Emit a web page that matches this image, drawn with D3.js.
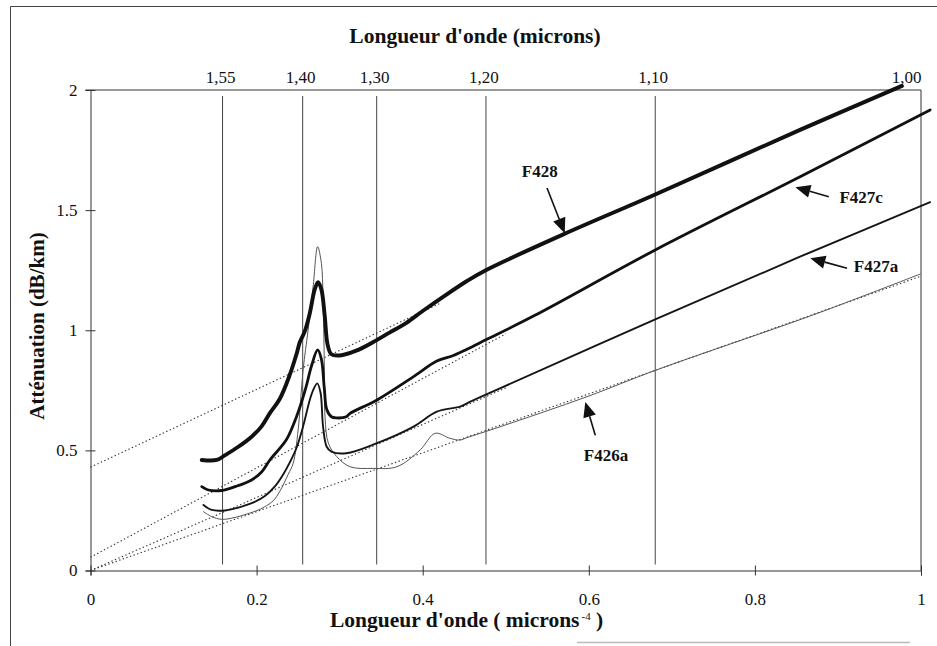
<!DOCTYPE html>
<html><head><meta charset="utf-8">
<script src="https://cdn.jsdelivr.net/npm/d3@7"></script>
<style>body{margin:0;background:#fff}svg{display:block}</style>
</head><body><svg id="c" width="937" height="646"></svg>
<script>
// ---- data ----
const xTicks=[0,0.2,0.4,0.6,0.8,1];
const xTickLabels=["0","0.2","0.4","0.6","0.8","1"];
const yTicks=[0,0.5,1,1.5,2];
const yTickLabels=["0","0.5","1","1.5","2"];
const wavelengthLabels=["1,55","1,40","1,30","1,20","1,10","1,00"];
const wavelengthPos=[0.159,0.2555,0.3446,0.4762,0.680,0.985];
const gridPos=[0.159,0.2555,0.3446,0.4762,0.680];

const seriesNames=["F428","F427c","F427a","F426a"];
const f428=[[0.134,0.46],[0.152,0.46],[0.162,0.48],[0.178,0.515],[0.194,0.557],[0.206,0.60],[0.216,0.655],[0.228,0.715],[0.240,0.815],[0.248,0.90],[0.252,0.95],[0.258,0.995],[0.264,1.07],[0.270,1.17],[0.274,1.20],[0.278,1.17],[0.282,1.06],[0.2855,0.94],[0.290,0.90],[0.300,0.895],[0.320,0.915],[0.340,0.95],[0.360,0.99],[0.380,1.03],[0.400,1.08],[0.425,1.14],[0.4533,1.205],[0.476,1.25],[0.57,1.40],[0.68,1.565],[0.855,1.835],[0.977,2.017]];
const f427c=[[0.134,0.349],[0.142,0.335],[0.158,0.333],[0.175,0.35],[0.194,0.377],[0.206,0.41],[0.216,0.46],[0.236,0.545],[0.248,0.64],[0.254,0.70],[0.260,0.77],[0.266,0.85],[0.2735,0.918],[0.278,0.88],[0.2815,0.76],[0.2845,0.67],[0.290,0.64],[0.296,0.635],[0.308,0.640],[0.3125,0.654],[0.345,0.71],[0.389,0.807],[0.417,0.872],[0.437,0.895],[0.4533,0.921],[0.476,0.96],[0.534,1.06],[0.68,1.334],[0.855,1.64],[1.011,1.917]];
const f427a=[[0.136,0.273],[0.146,0.252],[0.162,0.250],[0.178,0.262],[0.194,0.28],[0.210,0.31],[0.222,0.35],[0.232,0.40],[0.240,0.45],[0.248,0.51],[0.256,0.60],[0.264,0.71],[0.268,0.75],[0.273,0.779],[0.277,0.74],[0.280,0.60],[0.2844,0.515],[0.290,0.495],[0.308,0.488],[0.345,0.53],[0.389,0.599],[0.417,0.661],[0.445,0.682],[0.4533,0.696],[0.493,0.758],[0.68,1.045],[0.855,1.307],[1.011,1.533]];
const f426a=[[0.136,0.245],[0.146,0.224],[0.158,0.213],[0.174,0.221],[0.202,0.252],[0.212,0.27],[0.220,0.29],[0.228,0.33],[0.238,0.40],[0.244,0.446],[0.250,0.585],[0.256,0.835],[0.262,1.0],[0.268,1.18],[0.2735,1.348],[0.278,1.279],[0.280,1.14],[0.2815,0.864],[0.2824,0.64],[0.2864,0.53],[0.2965,0.474],[0.3125,0.432],[0.3405,0.425],[0.369,0.432],[0.397,0.502],[0.415,0.571],[0.433,0.55],[0.445,0.543],[0.4533,0.553],[0.493,0.598],[0.599,0.725],[0.68,0.833],[0.871,1.065],[0.999,1.234]];
const seriesWidths=[3.9,2.8,1.9,1.0];
const seriesColors=["#111","#111","#151515","#555"];

// Rayleigh extrapolations (dotted)
const fitIntercepts=[0.43,0.055,0,0];
const fitSlopes=[1.62,1.86,1.52,1.225];
const fitEnds=[0.42,0.5,0.5,1.0];

// annotation positions in data units
const labelPos=[[0.541,1.638],[0.928,1.530],[0.9458,1.243],[0.6207,0.455]];
const arrowFrom=[[0.5497,1.592],[0.889,1.556],[0.911,1.258],[0.6078,0.563]];
const arrowTo=[[0.571,1.404],[0.8487,1.595],[0.8667,1.30],[0.5958,0.7015]];

// ---- drawing ----
const svg=d3.select("#c");
svg.append("rect").attr("width",937).attr("height",646).attr("fill","#fff");
const x=d3.scaleLinear().domain([0,1]).range([90.5,921]);
const y=d3.scaleLinear().domain([0,2]).range([570.5,90]);
const serif="'Liberation Serif','Times New Roman',serif";

// outer page frame
svg.append("path").attr("d",`M10.5,646V6.5H937`).attr("fill","none").attr("stroke","#444").attr("stroke-width",1);
svg.append("line").attr("x1",577).attr("x2",910).attr("y1",642.5).attr("y2",642.5).attr("stroke","#bbb").attr("stroke-width",1.5);

// plot frame (top & right)
svg.append("line").attr("x1",x(0)-5).attr("x2",x(1)).attr("y1",y(2)).attr("y2",y(2)).attr("stroke","#333");
svg.append("line").attr("x1",x(1)).attr("x2",x(1)).attr("y1",y(2)).attr("y2",y(0)).attr("stroke","#333");

// vertical wavelength lines
svg.append("g").selectAll("line").data(gridPos).join("line")
  .attr("x1",d=>x(d)).attr("x2",d=>x(d)).attr("y1",y(2)+6).attr("y2",y(0)-6)
  .attr("stroke","#444").attr("stroke-width",1);

// top wavelength labels
svg.append("g").selectAll("text").data(wavelengthPos).join("text")
  .attr("x",d=>x(d)-2).attr("y",83).attr("text-anchor","middle")
  .attr("font-family",serif).attr("font-size",17).attr("fill","#111")
  .text((d,i)=>wavelengthLabels[i]);

// axes
const gx=svg.append("g").attr("transform",`translate(0,${y(0)})`)
  .call(d3.axisBottom(x).tickValues(xTicks).tickFormat((d,i)=>xTickLabels[i]).tickSizeOuter(0).tickSize(5).tickPadding(17));
gx.selectAll(".tick line").attr("y1",-5).attr("y2",5).attr("stroke","#333");
gx.select(".domain").attr("stroke","#333");
gx.selectAll("text").attr("font-family",serif).attr("font-size",17).attr("fill","#111");
const gy=svg.append("g").attr("transform",`translate(${x(0)},0)`)
  .call(d3.axisLeft(y).tickValues(yTicks).tickFormat((d,i)=>yTickLabels[i]).tickSizeOuter(0).tickSize(5).tickPadding(8));
gy.selectAll(".tick line").attr("x1",5).attr("x2",-5).attr("stroke","#333");
gy.select(".domain").attr("stroke","#333");
gy.selectAll("text").attr("font-family",serif).attr("font-size",17).attr("fill","#111");

// dotted fits
svg.append("g").selectAll("line").data(fitSlopes).join("line")
  .attr("x1",x(0)).attr("y1",(b,i)=>y(fitIntercepts[i]))
  .attr("x2",(b,i)=>x(fitEnds[i])).attr("y2",(b,i)=>y(fitIntercepts[i]+b*fitEnds[i]))
  .attr("stroke","#333").attr("stroke-width",1.1).attr("stroke-dasharray","1.4,2.4");

// curves
const line=d3.line().x(d=>x(d[0])).y(d=>y(d[1])).curve(d3.curveCatmullRom.alpha(0.5));
const allSeries=[f428,f427c,f427a,f426a];
svg.append("g").selectAll("path").data(allSeries.slice().reverse()).join("path")
  .attr("d",line).attr("fill","none")
  .attr("stroke",(d,i)=>seriesColors[3-i]).attr("stroke-width",(d,i)=>seriesWidths[3-i])
  .attr("stroke-linejoin","round").attr("stroke-linecap","round");

// annotations
const ann=svg.append("g");
seriesNames.forEach((name,i)=>{
  const [lx,ly]=labelPos[i];
  ann.append("text").attr("x",x(lx)).attr("y",y(ly)).attr("text-anchor","middle")
    .attr("font-family",serif).attr("font-weight","bold").attr("font-size",17).attr("fill","#111").text(name);
  const x0=x(arrowFrom[i][0]),y0=y(arrowFrom[i][1]),x1=x(arrowTo[i][0]),y1=y(arrowTo[i][1]);
  const ang=Math.atan2(y1-y0,x1-x0),L=15,W=6.5;
  const bx=x1-L*Math.cos(ang),by=y1-L*Math.sin(ang);
  ann.append("line").attr("x1",x0).attr("y1",y0).attr("x2",bx).attr("y2",by).attr("stroke","#111").attr("stroke-width",1.6);
  ann.append("path").attr("d",`M${x1},${y1}L${bx+W*Math.sin(ang)},${by-W*Math.cos(ang)}L${bx-W*Math.sin(ang)},${by+W*Math.cos(ang)}Z`).attr("fill","#111");
});

// axis titles
svg.append("text").attr("x",475).attr("y",43).attr("text-anchor","middle")
  .attr("font-family",serif).attr("font-weight","bold").attr("font-size",21.5).attr("fill","#111")
  .text("Longueur d'onde (microns)");
const bt=svg.append("text").attr("x",330).attr("y",627).attr("text-anchor","start")
  .attr("font-family",serif).attr("font-weight","bold").attr("font-size",21.5).attr("fill","#111");
bt.append("tspan").text("Longueur d'onde ( microns");
bt.append("tspan").attr("dy",-7).attr("dx",2).attr("font-size",11).attr("font-weight","normal").text("-4");
bt.append("tspan").attr("dy",7).text(" )");
svg.append("text").attr("transform","translate(44,326) rotate(-90)").attr("text-anchor","middle")
  .attr("font-family",serif).attr("font-weight","bold").attr("font-size",21).attr("fill","#111")
  .text("Atténuation (dB/km)");
</script></body></html>
